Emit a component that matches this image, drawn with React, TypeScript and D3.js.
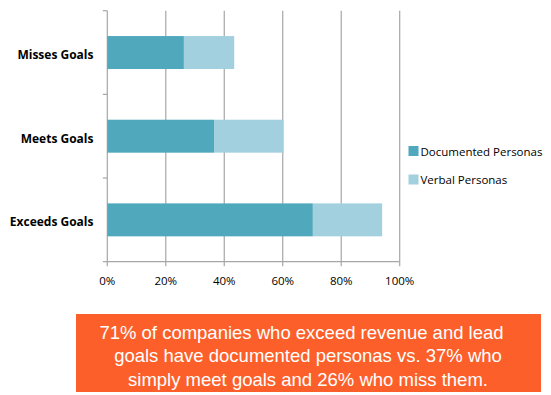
import React from "react";
import * as d3 from "d3";

const categories = ["Misses Goals", "Meets Goals", "Exceeds Goals"];
const documented = [26.2, 36.5, 70.3];
const verbal = [17.2, 23.8, 23.7];
const xTicks = [0, 20, 40, 60, 80, 100];
const seriesNames = ["Documented Personas", "Verbal Personas"];
const captionLines = [
  "71% of companies who exceed revenue and lead",
  "goals have documented personas vs. 37% who",
  "simply meet goals and 26% who miss them.",
];

const W = 551, H = 395;
const colors = ["#50A8BD", "#A3D0DE"];

export default function App() {
  const top = 10.7, bottom = 261.7;
  const x = d3.scaleLinear().domain([0, 100]).range([107.3, 399.7]);
  const y = d3.scaleBand().domain(categories).range([top, bottom]).paddingInner(0.606).paddingOuter(0.303);
  const step = (bottom - top) / categories.length;
  const yBounds = d3.range(categories.length + 1).map((i) => top + i * step);
  const grid = "#A6A6A6";
  return (
    <svg width={W} height={H} style={{ position: "absolute", left: 0, top: 0, background: "#fff" }}
      fontFamily="'Open Sans', 'Liberation Sans', sans-serif">
      {xTicks.slice(1).map((t) => (
        <line key={t} x1={x(t)} x2={x(t)} y1={top} y2={bottom} stroke={grid} strokeWidth={1.2} />
      ))}
      <line x1={x(0)} x2={x(0)} y1={top} y2={bottom} stroke={grid} strokeWidth={1.2} />
      <line x1={x(0)} x2={x(100)} y1={bottom} y2={bottom} stroke={grid} strokeWidth={1.2} />
      {yBounds.map((b) => (
        <line key={b} x1={x(0) - 4.5} x2={x(0)} y1={b} y2={b} stroke={grid} strokeWidth={1.2} />
      ))}
      {xTicks.map((t) => (
        <line key={"t" + t} x1={x(t)} x2={x(t)} y1={bottom} y2={bottom + 4.5} stroke={grid} strokeWidth={1.2} />
      ))}
      {categories.map((c, i) => (
        <g key={c}>
          <rect x={x(0)} y={y(c)} width={x(documented[i]) - x(0)} height={y.bandwidth()} fill={colors[0]} />
          <rect x={x(documented[i])} y={y(c)} width={x(documented[i] + verbal[i]) - x(documented[i])}
            height={y.bandwidth()} fill={colors[1]} />
          <text x={93.5} y={(y(c) as number) + y.bandwidth() / 2 + 2} textAnchor="end" dominantBaseline="central"
            fontWeight="bold" fontSize={12} fill="#000">{c}</text>
        </g>
      ))}
      {xTicks.map((t) => (
        <text key={"l" + t} x={x(t)} y={280} textAnchor="middle" dominantBaseline="central" fontSize={11.5} fill="#000">
          {t + "%"}
        </text>
      ))}
      {seriesNames.map((s, i) => (
        <g key={s} transform={`translate(408.5, ${151 + i * 28.5})`}>
          <rect x={0} y={-5} width={10} height={10} fill={colors[i]} />
          <text x={12} y={0} dominantBaseline="central" fontSize={11.5} fill="#000">{s}</text>
        </g>
      ))}
      <rect x={76} y={314} width={465} height={78} fill="#FD5F2A" />
      {captionLines.map((l, i) => (
        <text key={i} x={i === 0 ? 301.5 : 308} y={332 + i * 23.5} textAnchor="middle" dominantBaseline="central"
          fontSize={18.5} fill="#fff" fontFamily="'Liberation Sans', Arial, sans-serif">{l}</text>
      ))}
    </svg>
  );
}
